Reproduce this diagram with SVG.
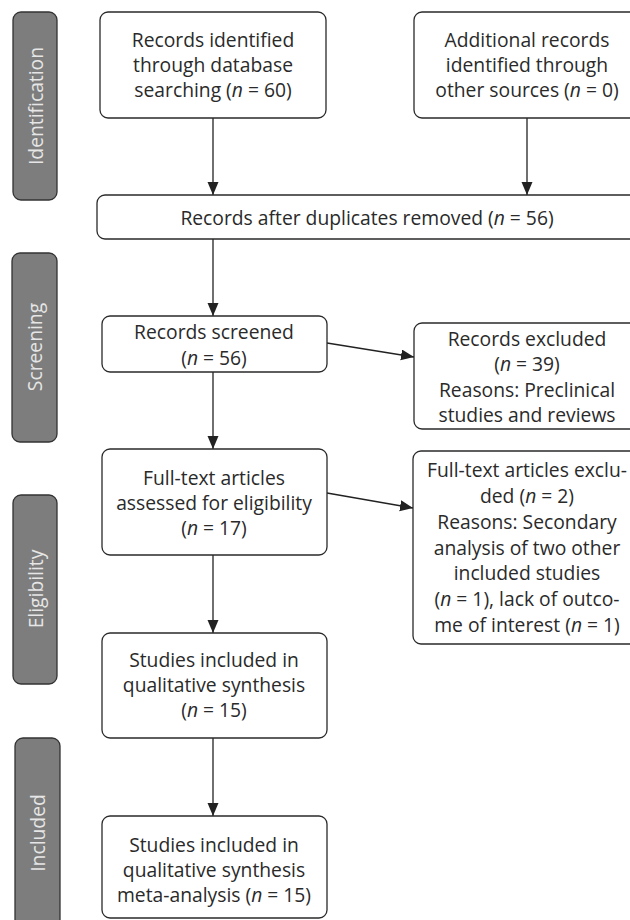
<svg xmlns="http://www.w3.org/2000/svg" width="630" height="920" viewBox="0 0 630 920">
<style>
.box{fill:#fff;stroke:#2a2a2a;stroke-width:1.3}
.tab{fill:#7d7d7d;stroke:#333;stroke-width:1.3}
.t{font-family:"Open Sans","Noto Sans",sans-serif;font-size:19.3px;fill:#2a2a2a;text-anchor:middle}
.tt{font-family:"Open Sans","Noto Sans",sans-serif;font-size:19.3px;fill:#e6e6e6;text-anchor:middle}
.i{font-style:italic}
.c{stroke:#222;stroke-width:1.3;fill:none;marker-end:url(#ah)}
</style>
<defs>
<marker id="ah" markerUnits="userSpaceOnUse" markerWidth="14" markerHeight="12" refX="13" refY="5.5" orient="auto">
<path d="M0,0 L13,5.5 L0,11 Z" fill="#222"/>
</marker>
</defs>
<rect width="630" height="920" fill="#fff"/>
<g id="tab-identification"><rect class="tab" x="13" y="12" width="44" height="188" rx="8"/><text class="tt" transform="translate(43,106) rotate(-90)">Identification</text></g>
<g id="tab-screening"><rect class="tab" x="12" y="253" width="45" height="189" rx="8"/><text class="tt" transform="translate(42,347) rotate(-90)">Screening</text></g>
<g id="tab-eligibility"><rect class="tab" x="13" y="495" width="44" height="189" rx="8"/><text class="tt" transform="translate(43,589) rotate(-90)">Eligibility</text></g>
<g id="tab-included"><rect class="tab" x="15" y="738" width="45" height="192" rx="8"/><text class="tt" transform="translate(45,833) rotate(-90)">Included</text></g>

<g id="connectors">
<line class="c" x1="213" y1="118" x2="213" y2="195"/>
<line class="c" x1="527" y1="118" x2="527" y2="195"/>
<line class="c" x1="213" y1="239" x2="213" y2="316"/>
<line class="c" x1="327" y1="343" x2="414" y2="357"/>
<line class="c" x1="213" y1="372" x2="213" y2="449"/>
<line class="c" x1="327" y1="493" x2="413" y2="508"/>
<line class="c" x1="213" y1="555" x2="213" y2="633"/>
<line class="c" x1="213" y1="738" x2="213" y2="816"/>
</g>

<g id="n-db"><rect class="box" x="100" y="12" width="226" height="106" rx="8"/>
<text class="t" x="213" y="47">Records identified</text>
<text class="t" x="213" y="72">through database</text>
<text class="t" x="213" y="97">searching (<tspan class="i">n</tspan> = 60)</text></g>

<g id="n-other"><rect class="box" x="414" y="12" width="230" height="106" rx="8"/>
<text class="t" x="527" y="47">Additional records</text>
<text class="t" x="527" y="72">identified through</text>
<text class="t" x="527" y="97">other sources (<tspan class="i">n</tspan> = 0)</text></g>

<g id="n-dup"><rect class="box" x="97" y="195" width="550" height="44" rx="8"/>
<text class="t" x="367" y="225">Records after duplicates removed (<tspan class="i">n</tspan> = 56)</text></g>

<g id="n-screened"><rect class="box" x="102" y="316" width="225" height="56" rx="8"/>
<text class="t" x="214" y="339">Records screened</text>
<text class="t" x="214" y="365">(<tspan class="i">n</tspan> = 56)</text></g>

<g id="n-excluded"><rect class="box" x="414" y="323" width="230" height="106" rx="8"/>
<text class="t" x="527" y="346">Records excluded</text>
<text class="t" x="527" y="371">(<tspan class="i">n</tspan> = 39)</text>
<text class="t" x="527" y="397">Reasons: Preclinical</text>
<text class="t" x="527" y="422">studies and reviews</text></g>

<g id="n-fulltext"><rect class="box" x="102" y="449" width="225" height="106" rx="8"/>
<text class="t" x="214" y="485">Full-text articles</text>
<text class="t" x="214" y="510">assessed for eligibility</text>
<text class="t" x="214" y="535">(<tspan class="i">n</tspan> = 17)</text></g>

<g id="n-ftexcluded"><rect class="box" x="413" y="451" width="231" height="193" rx="8"/>
<text class="t" x="527" y="477">Full-text articles exclu-</text>
<text class="t" x="527" y="503">ded (<tspan class="i">n</tspan> = 2)</text>
<text class="t" x="527" y="529">Reasons: Secondary</text>
<text class="t" x="527" y="555">analysis of two other</text>
<text class="t" x="527" y="580">included studies</text>
<text class="t" x="527" y="606">(<tspan class="i">n</tspan> = 1), lack of outco-</text>
<text class="t" x="527" y="632">me of interest (<tspan class="i">n</tspan> = 1)</text></g>

<g id="n-qual"><rect class="box" x="102" y="633" width="225" height="105" rx="8"/>
<text class="t" x="214" y="667">Studies included in</text>
<text class="t" x="214" y="692">qualitative synthesis</text>
<text class="t" x="214" y="717">(<tspan class="i">n</tspan> = 15)</text></g>

<g id="n-meta"><rect class="box" x="102" y="816" width="225" height="102" rx="8"/>
<text class="t" x="214" y="852">Studies included in</text>
<text class="t" x="214" y="877">qualitative synthesis</text>
<text class="t" x="214" y="902">meta-analysis (<tspan class="i">n</tspan> = 15)</text></g>
</svg>
